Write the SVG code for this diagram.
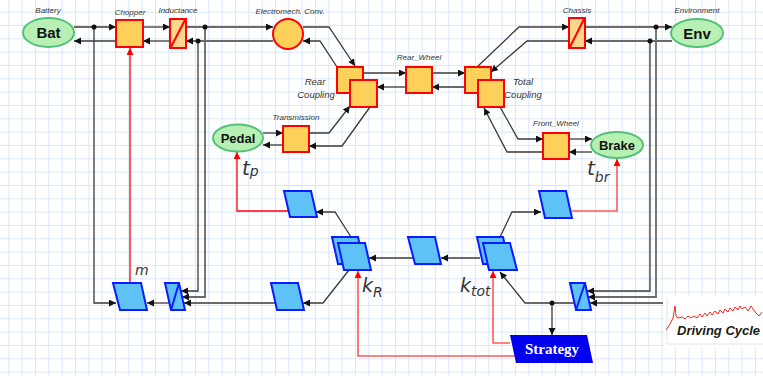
<svg xmlns="http://www.w3.org/2000/svg" width="763" height="376" viewBox="0 0 763 376">
<defs>
<pattern id="grid" width="13.333" height="13.333" patternUnits="userSpaceOnUse" x="8.3" y="11.7">
<path d="M0,0.5 H13.333 M0.5,0 V13.333" fill="none" stroke="#d9e7f6" stroke-width="1"/>
</pattern>
<marker id="ar" markerUnits="userSpaceOnUse" markerWidth="8" markerHeight="8" refX="7" refY="3.5" orient="auto"><path d="M0,0 L7,3.5 L0,7 z" fill="#111"/></marker>
<marker id="arr" markerUnits="userSpaceOnUse" markerWidth="8" markerHeight="8" refX="7" refY="3.5" orient="auto"><path d="M0,0 L7,3.5 L0,7 z" fill="#f00"/></marker>
<style>
.c{fill:none;stroke:#3a3a3a;stroke-width:1.3;marker-end:url(#ar)}
.g{fill:none;stroke:#6a6a6a;stroke-width:1.8;marker-end:url(#ar)}
.r{fill:none;stroke:#f00;stroke-width:1.3;marker-end:url(#arr)}
.rp{fill:none;stroke:#ff5a5a;stroke-width:1.6;marker-end:url(#arr)}
.dot{fill:#111}
.sq{fill:#fdd05a;stroke:#f00;stroke-width:2}
.ind{fill:#fad78c;stroke:#f00;stroke-width:2}
.el{fill:#b8f0b4;stroke:#52c27a;stroke-width:2}
.bl{fill:#5ec2f6;stroke:#0a1cff;stroke-width:2}
.lb{font-family:"Liberation Sans",Arial,sans-serif;font-style:italic;font-size:8px;fill:#333;text-anchor:middle}
.lb9{font-family:"Liberation Sans",Arial,sans-serif;font-style:italic;font-size:9.5px;fill:#333;text-anchor:middle}
.nt{font-family:"Liberation Sans",Arial,sans-serif;font-weight:bold;fill:#111;text-anchor:middle}
.var{font-family:"DejaVu Sans","Liberation Sans",sans-serif;font-style:italic;fill:#333}
</style>
</defs>
<rect width="763" height="376" fill="#fff"/>
<rect width="763" height="376" fill="url(#grid)"/>

<g id="connectors">
<path class="c" d="M74,27 H116"/>
<path class="c" d="M116,41 H74"/>
<path class="c" d="M143,27 H170"/>
<path class="c" d="M170,41 H143"/>
<path class="g" d="M186,27 H273"/>
<path class="g" d="M273,41 H186"/>
<path class="c" d="M303,27 H329 L355,66"/>
<path class="c" d="M337,67 L320,41 H303"/>
<path class="c" d="M363,73 H406"/>
<path class="c" d="M406,87 H377"/>
<path class="c" d="M432,73 H465"/>
<path class="c" d="M465,87 H432"/>
<path class="c" d="M477,67 L519,27 H569"/>
<path class="c" d="M569,41 H527 L491,72"/>
<path class="g" d="M585,27 H672"/>
<path class="g" d="M672,41 H585"/>
<path class="c" d="M309,133 H329 L350,106"/>
<path class="c" d="M370,107 L342,146 H309"/>
<path class="c" d="M263,133 H283"/>
<path class="c" d="M283,145 H263"/>
<path class="c" d="M500,107 L518,139 H543"/>
<path class="c" d="M543,152 H507 L484,108"/>
<path class="c" d="M569,139 H592"/>
<path class="c" d="M592,152 H569"/>
<path class="c" d="M94,27 V303 H116"/>
<path class="c" d="M171,303 H147"/>
<path class="c" d="M277,303 H184"/>
<path class="c" d="M349,270 L323,303 H303"/>
<path class="c" d="M198,41 V291 H181"/>
<path class="g" d="M205,27 V297 H182"/>
<path class="c" d="M351,237 L335,212 H316"/>
<path class="r" d="M290,211 H237 V152"/>
<path class="c" d="M413,258 H369"/>
<path class="c" d="M480,258 H441"/>
<path class="c" d="M500,237 L512,212 H541"/>
<path class="rp" d="M572,211 H617 V159"/>
<path class="c" d="M650,41 V291 H587"/>
<path class="g" d="M656,27 V297 H588"/>
<path class="c" d="M663,303 H590"/>
<path class="c" d="M576,303 H525 L500,272"/>
<path class="c" d="M552,303 V335"/>
<path class="rp" d="M510,343 H493 V271"/>
<path class="rp" d="M516,356 H358 V271"/>
<path class="r" d="M130,284 V48"/>
<circle class="dot" cx="94" cy="27" r="2.5"/>
<circle class="dot" cx="205" cy="27" r="2.5"/>
<circle class="dot" cx="198" cy="41" r="2.5"/>
<circle class="dot" cx="656" cy="27" r="2.5"/>
<circle class="dot" cx="650" cy="41" r="2.5"/>
<circle class="dot" cx="552" cy="303" r="2.5"/>
</g>

<g id="bat"><ellipse class="el" cx="48.5" cy="32.5" rx="25.5" ry="14.5"/><text class="nt" x="48.5" y="38" font-size="15">Bat</text><text class="lb" x="48" y="13">Battery</text></g>
<g id="chopper"><rect class="sq" x="116" y="20" width="27" height="27"/><text class="lb" x="130" y="15">Chopper</text></g>
<g id="inductance"><rect class="ind" x="170" y="19" width="16" height="29"/><path d="M171,47 L185,20" stroke="#f00" stroke-width="2"/><text class="lb" x="178" y="13">Inductance</text></g>
<g id="emconv"><circle class="sq" cx="288" cy="34" r="15"/><text class="lb" x="290" y="14">Electromech. Conv.</text></g>
<g id="rearcoupling"><rect class="sq" x="337" y="67" width="26" height="26"/><rect class="sq" x="350" y="80" width="27" height="27"/><text class="lb9" x="315" y="84.5">Rear</text><text class="lb9" x="316" y="97.5">Coupling</text></g>
<g id="rearwheel"><rect class="sq" x="406" y="67" width="26" height="26"/><text class="lb" x="419" y="60">Rear_Wheel</text></g>
<g id="totalcoupling"><rect class="sq" x="465" y="67" width="26" height="26"/><rect class="sq" x="478" y="80" width="26" height="27"/><text class="lb9" x="523" y="84.5">Total</text><text class="lb9" x="523" y="97.5">Coupling</text></g>
<g id="chassis"><rect class="ind" x="569" y="18" width="16" height="30"/><path d="M570,47 L584,19" stroke="#f00" stroke-width="2"/><text class="lb" x="577" y="13">Chassis</text></g>
<g id="env"><ellipse class="el" cx="697" cy="33" rx="26" ry="14"/><text class="nt" x="697" y="38.5" font-size="15">Env</text><text class="lb" x="697" y="13">Environment</text></g>
<g id="transmission"><rect class="sq" x="283" y="126" width="26" height="26"/><text class="lb" x="296" y="120">Transmission</text></g>
<g id="pedal"><ellipse class="el" cx="238" cy="138" rx="25" ry="13.5"/><text class="nt" x="238" y="143" font-size="13">Pedal</text></g>
<g id="frontwheel"><rect class="sq" x="543" y="133" width="26" height="26"/><text class="lb" x="556" y="126">Front_Wheel</text></g>
<g id="brake"><ellipse class="el" cx="617" cy="145" rx="26" ry="13"/><text class="nt" x="617" y="150" font-size="13">Brake</text></g>

<g id="m"><polygon class="bl" points="113,283 141,283 147,310 120,310"/><text class="var" x="135" y="275" font-size="14">m</text></g>
<g id="inv-left"><polygon class="bl" points="165,283 179,283 185,310 171,310"/><path d="M171,310 L179,283" stroke="#0a1cff" stroke-width="2"/></g>
<g id="para-bottom"><polygon class="bl" points="271,283 298,283 304,310 277,310"/></g>
<g id="para-pedal"><polygon class="bl" points="284,191 311,191 317,217 290,217"/></g>
<g id="kR"><polygon class="bl" points="332,237 358,237 364,264 338,264"/><polygon class="bl" points="338,243 365,243 371,270 344,270"/><text class="var" x="362" y="292" font-size="19">k<tspan font-size="14" dy="5">R</tspan></text></g>
<g id="para-mid"><polygon class="bl" points="408,237 435,237 441,264 415,264"/></g>
<g id="ktot"><polygon class="bl" points="477,237 503,237 509,264 483,264"/><polygon class="bl" points="483,243 510,243 517,270 489,270"/><text class="var" x="460" y="292" font-size="19">k<tspan font-size="14" dy="4">tot</tspan></text></g>
<g id="para-brake"><polygon class="bl" points="539,191 566,191 572,218 545,218"/></g>
<g id="inv-right"><polygon class="bl" points="570,283 585,283 591,310 576,310"/><path d="M576,310 L585,283" stroke="#0a1cff" stroke-width="2"/></g>
<g id="tp"><text class="var" x="242" y="175" font-size="20">t<tspan font-size="14" dy="1">p</tspan></text></g>
<g id="tbr"><text class="var" x="587" y="175" font-size="20">t<tspan font-size="14" dy="7">br</tspan></text></g>
<g id="strategy"><polygon points="510,335 587,335 593,363 516,363" fill="#0000ee"/><text x="552" y="354" font-family="Liberation Serif,serif" font-weight="bold" font-size="15" fill="#fff" text-anchor="middle">Strategy</text></g>
<g id="drivingcycle">
<rect x="664" y="296" width="99" height="52" fill="#fff"/>
<path d="M667,298 V344 H763" fill="none" stroke="#ddd" stroke-width="0.8"/>
<polyline fill="none" stroke="#f22" stroke-width="1" points="666,330 670,324 673,318 675,306 676,316 678,318 682,317 685,319 688,316 691,318 694,316 697,318 700,314 702,317 705,313 707,316 710,312 712,315 715,311 718,314 720,310 723,313 725,309 728,312 730,308 733,311 735,307 738,310 740,306 742,309 745,307 748,311 751,306 753,309 756,313 759,316 762,312"/>
<text x="677" y="335" font-family="Liberation Sans,Arial,sans-serif" font-weight="bold" font-style="italic" font-size="13" fill="#1a1a1a">Driving Cycle</text>
</g>
</svg>
